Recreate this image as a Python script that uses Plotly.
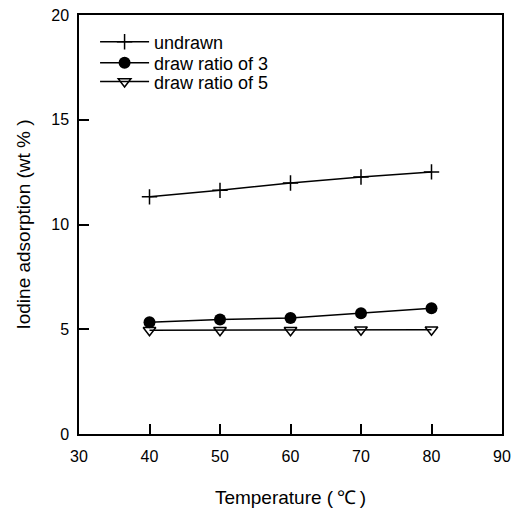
import plotly.graph_objects as go

temperature = [40, 50, 60, 70, 80]
undrawn = [11.32, 11.63, 11.98, 12.27, 12.51]
draw_ratio_3 = [5.33, 5.46, 5.54, 5.76, 6.0]
draw_ratio_5 = [4.95, 4.95, 4.95, 4.98, 4.98]

x_ticks = [30, 40, 50, 60, 70, 80, 90]
y_ticks = [0, 5, 10, 15, 20]

FONT = "Liberation Sans, Arial, Helvetica, sans-serif"

fig = go.Figure()
fig.add_trace(go.Scatter(
    x=temperature, y=undrawn, name="undrawn", mode="lines+markers",
    line=dict(color="black", width=1.5),
    marker=dict(symbol="cross-thin", size=11, color="black", line=dict(color="black", width=1.5)),
    legend="legend",
))
fig.add_trace(go.Scatter(
    x=temperature, y=draw_ratio_3, name="draw ratio of 3", mode="lines+markers",
    line=dict(color="black", width=1.5),
    marker=dict(symbol="circle", size=12, color="black"),
    legend="legend2",
))
fig.add_trace(go.Scatter(
    x=temperature, y=draw_ratio_5, name="draw ratio of 5", mode="lines+markers",
    line=dict(color="black", width=1.5),
    marker=dict(symbol="triangle-down-open", size=11, color="black", line=dict(color="black", width=1.5)),
    legend="legend3",
))

leg_common = dict(x=0.038, xanchor="left", yanchor="middle",
                  bgcolor="rgba(0,0,0,0)", font=dict(size=18), itemwidth=49)

fig.update_layout(
    width=523, height=508,
    margin=dict(l=79, r=21, t=15, b=74),
    paper_bgcolor="white", plot_bgcolor="white",
    font=dict(family=FONT, size=16, color="black"),
    showlegend=True,
    legend=dict(y=0.9355, **leg_common),
    legend2=dict(y=0.8855, **leg_common),
    legend3=dict(y=0.8405, **leg_common),
    xaxis=dict(range=[30, 90], tickvals=x_ticks, ticks="inside", ticklen=10,
               tickwidth=1.5, tickcolor="black", showline=True, linecolor="black",
               linewidth=1.5, mirror=True, showgrid=False, zeroline=False,
               tickfont=dict(size=16), ticklabelstandoff=7, automargin=False,
               title=dict(text="Temperature (\u2009℃\u2009)", font=dict(size=19), standoff=28)),
    yaxis=dict(range=[0, 20], tickvals=y_ticks, ticks="inside", ticklen=10,
               tickwidth=1.5, tickcolor="black", showline=True, linecolor="black",
               linewidth=1.5, mirror=True, showgrid=False, zeroline=False,
               tickfont=dict(size=16), ticklabelstandoff=5, automargin=False,
               title=dict(text="Iodine adsorption (wt % )", font=dict(size=19), standoff=16)),
)

fig.write_html("out.html")
